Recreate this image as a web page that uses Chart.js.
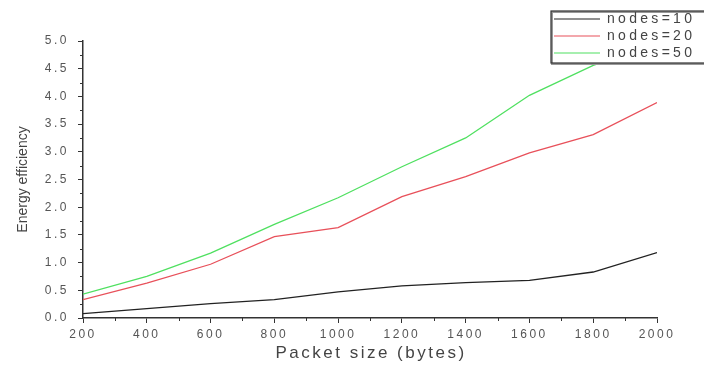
<!DOCTYPE html>
<html><head><meta charset="utf-8">
<script src="https://cdn.jsdelivr.net/npm/chart.js@4.4.1/dist/chart.umd.min.js"></script>
<style>html,body{margin:0;padding:0;background:#fff;}canvas{display:block;}</style>
</head><body>
<canvas id="c" width="704" height="366"></canvas>
<script>
const packetSizes = [200, 400, 600, 800, 1000, 1200, 1400, 1600, 1800, 2000];
const nodes10 = [0.08, 0.17, 0.26, 0.33, 0.47, 0.58, 0.64, 0.68, 0.83, 1.18];
const nodes20 = [0.33, 0.63, 0.97, 1.47, 1.63, 2.19, 2.55, 2.98, 3.31, 3.89];
const nodes50 = [0.43, 0.75, 1.17, 1.69, 2.17, 2.73, 3.25, 4.02, 4.56, 4.95];
const seriesLabels = ['nodes=10', 'nodes=20', 'nodes=50'];
const seriesColors = ['#222222', '#e8505a', '#4fe060'];
const yTicks = [0, 0.5, 1, 1.5, 2, 2.5, 3, 3.5, 4, 4.5, 5];
const xTitle = 'Packet size (bytes)';
const yTitle = 'Energy efficiency';

const toPts = arr => arr.map((v, i) => ({x: packetSizes[i], y: v}));
const FONT = '"Liberation Sans", Arial, sans-serif';

const extras = {
  id: 'extras',
  beforeDraw(chart) {
    try { chart.ctx.letterSpacing = '2.5px'; } catch (e) {}
  },
  afterDraw(chart) {
    const ctx = chart.ctx, xs = chart.scales.x, ys = chart.scales.y;
    ctx.save();
    ctx.strokeStyle = '#333';
    ctx.lineWidth = 1;
    for (let v = 300; v < 2000; v += 200) {
      const px = Math.round(xs.getPixelForValue(v)) + 0.5;
      ctx.beginPath(); ctx.moveTo(px, ys.bottom); ctx.lineTo(px, ys.bottom + 3); ctx.stroke();
    }
    for (let v = 0.25; v < 5; v += 0.5) {
      const py = Math.round(ys.getPixelForValue(v)) + 0.5;
      ctx.beginPath(); ctx.moveTo(xs.left, py); ctx.lineTo(xs.left - 3, py); ctx.stroke();
    }
    // axis titles
    ctx.fillStyle = '#444';
    ctx.textAlign = 'center';
    ctx.textBaseline = 'middle';
    ctx.letterSpacing = '2.5px';
    ctx.font = '17px ' + FONT;
    ctx.fillText(xTitle, (xs.left + xs.right) / 2 + 1, 353);
    ctx.save();
    ctx.translate(23, (ys.top + ys.bottom) / 2);
    ctx.rotate(-Math.PI / 2);
    ctx.letterSpacing = '0px';
    ctx.font = '14px ' + FONT;
    ctx.fillText(yTitle, 0, 0);
    ctx.restore();
    // legend box
    const bx = 551, by = 11, bw = 160, bh = 52;
    ctx.fillStyle = '#fff';
    ctx.fillRect(bx, by, bw, bh);
    ctx.strokeStyle = '#999';
    ctx.lineWidth = 2;
    ctx.strokeRect(bx + 1, by + 1, bw, bh);
    ctx.strokeStyle = '#333';
    ctx.lineWidth = 1.2;
    ctx.strokeRect(bx, by, bw, bh);
    ctx.font = '14px ' + FONT;
    ctx.letterSpacing = '3.3px';
    ctx.textAlign = 'left';
    ctx.textBaseline = 'middle';
    chart.data.datasets.forEach((ds, i) => {
      const yy = by + 8 + i * 17;
      ctx.strokeStyle = ds.borderColor;
      ctx.lineWidth = 1.2;
      ctx.beginPath(); ctx.moveTo(bx + 3, yy); ctx.lineTo(bx + 49, yy); ctx.stroke();
      ctx.fillStyle = '#444';
      ctx.fillText(ds.label, bx + 56, yy);
    });
    ctx.restore();
    try { ctx.letterSpacing = '0px'; } catch (e) {}
  }
};

new Chart(document.getElementById('c'), {
  type: 'line',
  data: {
    datasets: seriesLabels.map((lab, i) => ({
      label: lab,
      data: toPts([nodes10, nodes20, nodes50][i]),
      borderColor: seriesColors[i],
      backgroundColor: seriesColors[i],
      borderWidth: 1.3,
      pointRadius: 0,
      tension: 0,
      fill: false
    }))
  },
  options: {
    responsive: false,
    animation: false,
    devicePixelRatio: 1,
    layout: {padding: {left: 0, top: 41, right: 47, bottom: 0}},
    plugins: {legend: {display: false}, tooltip: {enabled: false}},
    scales: {
      x: {
        type: 'linear', min: 200, max: 2000,
        afterFit(s) { s.height = 48; },
        ticks: {stepSize: 200, color: '#555', maxRotation: 0, padding: 4,
          callback: v => String(v),
          font: {family: FONT, size: 12}},
        grid: {drawOnChartArea: false, drawTicks: true, tickLength: 5, tickColor: '#333', tickWidth: 1},
        border: {display: true, color: '#333', width: 1.5},
        title: {display: false}
      },
      y: {
        type: 'linear', min: 0, max: 5,
        afterFit(s) { s.width = 83; },
        afterBuildTicks(s) { s.ticks = yTicks.map(v => ({value: v})); },
        ticks: {color: '#555', padding: 9, callback: v => v.toFixed(1),
          font: {family: FONT, size: 12}},
        grid: {drawOnChartArea: false, drawTicks: true, tickLength: 5, tickColor: '#333', tickWidth: 1},
        border: {display: true, color: '#333', width: 1.5},
        title: {display: false}
      }
    }
  },
  plugins: [extras]
});
</script>
</body></html>
